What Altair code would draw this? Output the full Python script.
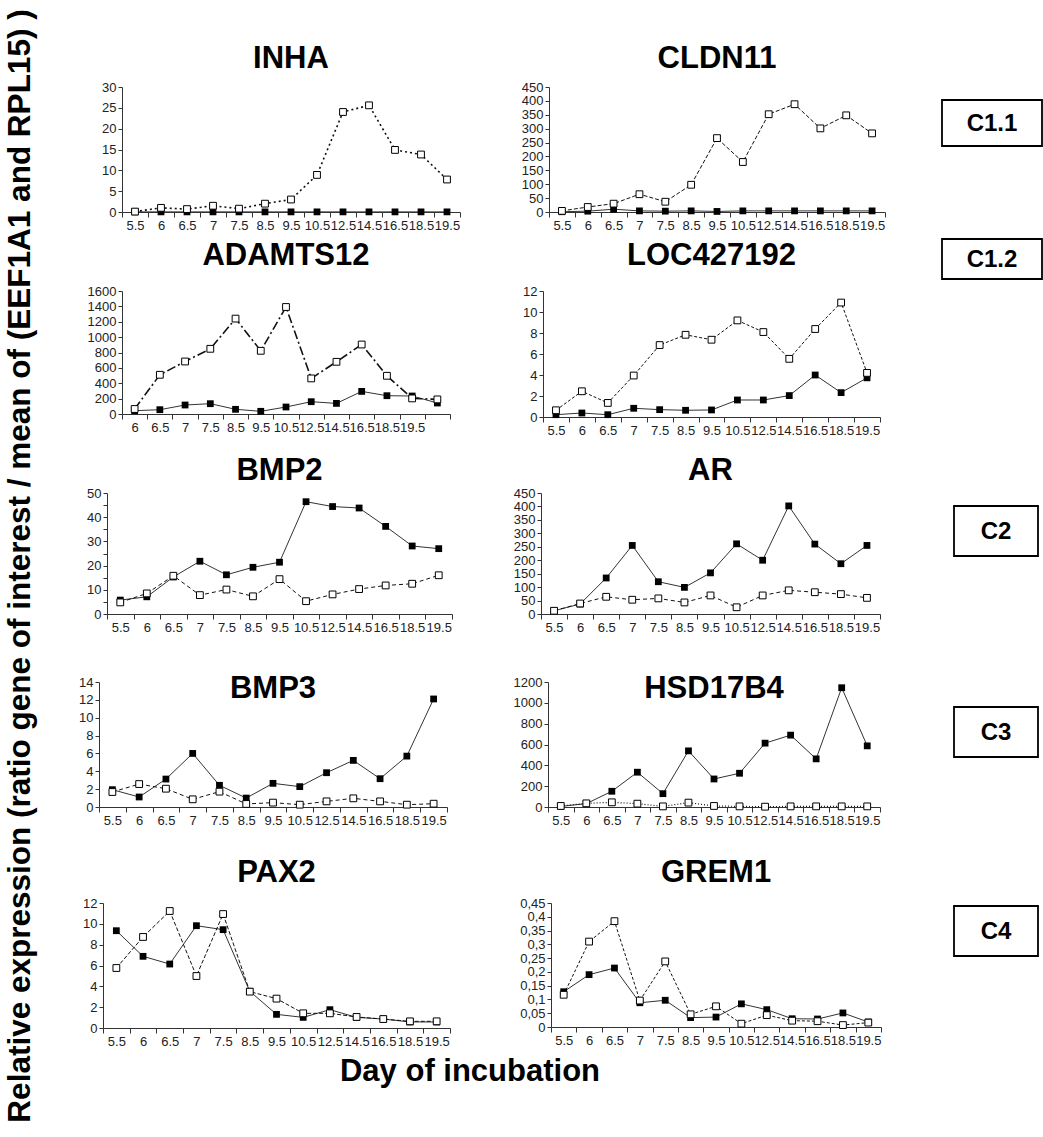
import altair as alt
import pandas as pd

FONT = "Liberation Sans"

DAYS = ['5.5', '6', '6.5', '7', '7.5', '8.5', '9.5', '10.5', '12.5', '14.5', '16.5', '18.5', '19.5']
ADAMTS12_TICK_LABELS = ['6', '6.5', '7', '7.5', '8.5', '9.5', '10.5', '12.5', '14.5', '16.5', '18.5', '19.5', '']

Y_TITLE = "Relative expression (ratio gene of interest / mean of (EEF1A1 and RPL15) )"
X_TITLE = "Day of incubation"

INHA_filled = [0.03, 0.03, 0.03, 0.03, 0.03, 0.03, 0.03, 0.03, 0.03, 0.03, 0.03, 0.03, 0.03]
INHA_open = [0.1, 1.0, 0.7, 1.5, 0.8, 2.0, 3.0, 8.9, 24.0, 25.6, 14.9, 13.8, 7.8]

CLDN11_filled = [1, 3, 10, 4, 3, 4, 2, 4, 4, 4, 4, 4, 4]
CLDN11_open = [4, 18, 30, 64, 37, 98, 266, 180, 352, 388, 301, 348, 283]

ADAMTS12_filled = [43, 56, 117, 134, 61, 35, 91, 160, 138, 294, 238, 234, 143]
ADAMTS12_open = [65, 510, 683, 848, 1241, 822, 1392, 463, 679, 904, 497, 203, 190]

LOC427192_filled = [0.22, 0.38, 0.22, 0.83, 0.7, 0.64, 0.67, 1.62, 1.62, 2.04, 4.0, 2.32, 3.73]
LOC427192_open = [0.64, 2.45, 1.34, 3.95, 6.85, 7.83, 7.36, 9.2, 8.09, 5.54, 8.38, 10.9, 4.2]

BMP2_filled = [5.75, 7.1, 15.3, 21.8, 16.2, 19.3, 21.4, 46.4, 44.4, 43.8, 36.2, 28.1, 27.0]
BMP2_open = [4.8, 8.5, 15.8, 7.8, 10.1, 7.3, 14.4, 5.3, 8.1, 10.3, 11.8, 12.5, 16.0]

AR_filled = [12, 37, 134, 255, 120, 99, 153, 261, 200, 402, 260, 187, 255]
AR_open = [12, 39, 64, 53, 58, 43, 69, 25, 69, 88, 81, 74, 60]

BMP3_filled = [1.94, 1.12, 3.13, 6.0, 2.43, 1.0, 2.65, 2.28, 3.84, 5.22, 3.17, 5.7, 12.1]
BMP3_open = [1.68, 2.57, 2.05, 0.86, 1.72, 0.34, 0.49, 0.26, 0.63, 0.97, 0.63, 0.26, 0.37]

HSD17B4_filled = [6, 32, 151, 334, 128, 539, 269, 324, 613, 690, 462, 1145, 587]
HSD17B4_open = [10, 35, 45, 32, 6, 42, 10, 6, 3, 6, 6, 6, 6]

PAX2_filled = [9.34, 6.88, 6.14, 9.82, 9.44, 3.52, 1.31, 1.02, 1.76, 1.02, 0.86, 0.58, 0.58]
PAX2_open = [5.76, 8.74, 11.23, 4.99, 10.94, 3.49, 2.82, 1.41, 1.41, 1.06, 0.86, 0.64, 0.64]

GREM1_filled = [0.128, 0.19, 0.214, 0.088, 0.097, 0.034, 0.036, 0.084, 0.063, 0.030, 0.029, 0.051, 0.018]
GREM1_open = [0.117, 0.31, 0.384, 0.096, 0.238, 0.046, 0.075, 0.012, 0.043, 0.023, 0.021, 0.007, 0.016]

CLUSTERS = ['C1.1', 'C1.2', 'C2', 'C3', 'C4']


def js_list(items):
    return "[" + ",".join("'" + s + "'" for s in items) + "]"


def panel(name, filled, open_, ymax, ystep, dash, dash_w, w, h, yext, xext, toff,
          tick_labels=None, comma=False):
    df_f = pd.DataFrame({'day': DAYS, 'value': filled})
    df_o = pd.DataFrame({'day': DAYS, 'value': open_})
    n = int(round(ymax / ystep))
    yticks = [round(i * ystep, 4) for i in range(n + 1)]

    xaxis_kw = dict(title=None, tickBand='extent', labelAngle=0, labelOverlap=False,
                    labelFontSize=13, labelPadding=2, tickSize=5,
                    minExtent=xext, maxExtent=xext)
    if tick_labels is not None:
        xaxis_kw['labelExpr'] = js_list(tick_labels) + "[indexof(" + js_list(DAYS) + ", datum.value)]"
    yaxis_kw = dict(title=None, values=yticks, tickSize=4, labelFontSize=13, labelPadding=2,
                    minExtent=yext, maxExtent=yext)
    if comma:
        yaxis_kw['labelExpr'] = "replace(format(datum.value, '.2~f'), '.', ',')"
    else:
        yaxis_kw['format'] = 'd'

    x = alt.X('day:O', sort=DAYS, bandPosition=0.5,
              scale=alt.Scale(type='band', paddingInner=0, paddingOuter=0),
              axis=alt.Axis(**xaxis_kw))
    y = alt.Y('value:Q', scale=alt.Scale(domain=[0, ymax], nice=False, zero=True),
              axis=alt.Axis(**yaxis_kw))

    line_f = alt.Chart(df_f).mark_line(color='#333333', strokeWidth=1).encode(x=x, y=y)
    line_o = alt.Chart(df_o).mark_line(color='#111111', strokeWidth=dash_w, strokeDash=dash).encode(x=x, y=y)
    pts_f = alt.Chart(df_f).mark_point(shape='square', filled=True, color='black', size=46, opacity=1).encode(x=x, y=y)
    pts_o = alt.Chart(df_o).mark_point(shape='square', filled=True, fill='white', stroke='black',
                                       strokeWidth=1, size=46, opacity=1).encode(x=x, y=y)
    return alt.layer(line_f, line_o, pts_f, pts_o).properties(
        width=w, height=h,
        title=alt.TitleParams(name, fontSize=31, fontWeight='bold', font=FONT, color='black', offset=toff)
    )


def box(label, w, h, x0, x1, y0, y1):
    df = pd.DataFrame({'t': [label]})
    r = alt.Chart(df).mark_rect(fill='white', stroke='black', strokeWidth=1.8).encode(
        x=alt.value(x0), x2=alt.value(x1), y=alt.value(y0), y2=alt.value(y1))
    t = alt.Chart(df).mark_text(font=FONT, fontSize=24, fontWeight='bold', color='black',
                                baseline='middle', align='center').encode(
        text='t:N', x=alt.value((x0 + x1) / 2), y=alt.value((y0 + y1) / 2 + 1))
    return alt.layer(r, t).properties(width=w, height=h)


def lead():
    return alt.Chart(pd.DataFrame({'t': ['']})).mark_text(opacity=0).encode(
        text='t:N', x=alt.value(0), y=alt.value(0)).properties(width=1, height=1)


def row(left, right, bx):
    return alt.hconcat(lead(), alt.hconcat(left, right, bx, spacing=20), spacing=0)


# Row 1
r1L = panel('INHA', INHA_filled, INHA_open, 30, 5, [2, 3], 1.6, 338, 125, 61, 26, 6)
r1R = panel('CLDN11', CLDN11_filled, CLDN11_open, 450, 50, [4, 2], 1, 336, 125, 68, 26, 6)
r1B = box(CLUSTERS[0], 137, 60, 36, 136, 13, 59)
row1 = row(r1L, r1R, r1B)

# Row 2
r2L = panel('ADAMTS12', ADAMTS12_filled, ADAMTS12_open, 1600, 200, [9, 3, 2, 3], 1.6, 328, 123, 61, 41, 13,
            tick_labels=ADAMTS12_TICK_LABELS)
r2R = panel('LOC427192', LOC427192_filled, LOC427192_open, 12, 2, [3, 2], 1, 337, 126, 72, 38, 13)
r2B = box(CLUSTERS[1], 142, 60, 41, 141, -52, -12)
row2 = row(r2L, r2R, r2B)

# Row 3
r3L = panel('BMP2', BMP2_filled, BMP2_open, 50, 5, [4, 3], 1, 345, 121, 46, 59, 0)
r3R = panel('AR', AR_filled, AR_open, 450, 50, [4, 3], 1, 339, 121, 68, 59, 0)
r3B = box(CLUSTERS[2], 140, 70, 53, 137, 13, 63)
row3 = row(r3L, r3R, r3B)

# Row 4
r4L = panel('BMP3', BMP3_filled, BMP3_open, 14, 2, [4, 3], 1, 348, 125, 38, 50, -29)
r4R = panel('HSD17B4', HSD17B4_filled, HSD17B4_open, 1200, 200, [1, 2], 1.2, 332, 125, 80, 50, -29)
r4B = box(CLUSTERS[3], 140, 80, 53, 137, 25, 75)
row4 = row(r4L, r4R, r4B)

# Row 5
r5L = panel('PAX2', PAX2_filled, PAX2_open, 12, 2, [4, 2], 1, 347, 125, 42, 24, 8)
r5R = panel('GREM1', GREM1_filled, GREM1_open, 0.45, 0.05, [3, 2], 1, 330, 124, 80, 24, 8, comma=True)
r5B = box(CLUSTERS[4], 139, 60, 52, 136, 3, 53)
row5 = row(r5L, r5R, r5B)

spacer = alt.Chart(pd.DataFrame({'t': ['']})).mark_text(opacity=0).encode(
    text='t:N', x=alt.value(0), y=alt.value(0)).properties(width=10, height=37)

xtitle = alt.Chart(pd.DataFrame({'t': [X_TITLE]})).mark_text(
    font=FONT, fontSize=31, fontWeight='bold', color='black', baseline='middle', align='center'
).encode(text='t:N', x=alt.value(410), y=alt.value(20)).properties(width=800, height=40)

ytitle = alt.Chart(pd.DataFrame({'t': [Y_TITLE]})).mark_text(
    font=FONT, fontSize=31.5, fontWeight='bold', color='black', baseline='middle', align='center',
    angle=270, clip=True
).encode(text='t:N', x=alt.value(21), y=alt.value(560)).properties(width=60, height=1128)

main = alt.vconcat(spacer, row1, row2, row3, row4, row5, xtitle, spacing=0)

chart = alt.hconcat(ytitle, main, spacing=0).properties(
    padding={"left": 0, "top": 0, "right": 0, "bottom": 0}
).configure_view(stroke=None).configure_axis(
    grid=False, labelFont=FONT, labelColor='#222222', domainColor='#333333', tickColor='#333333',
    domainWidth=1, tickWidth=1
)

chart.save("out.html", embed_options={"renderer": "svg", "actions": False})
